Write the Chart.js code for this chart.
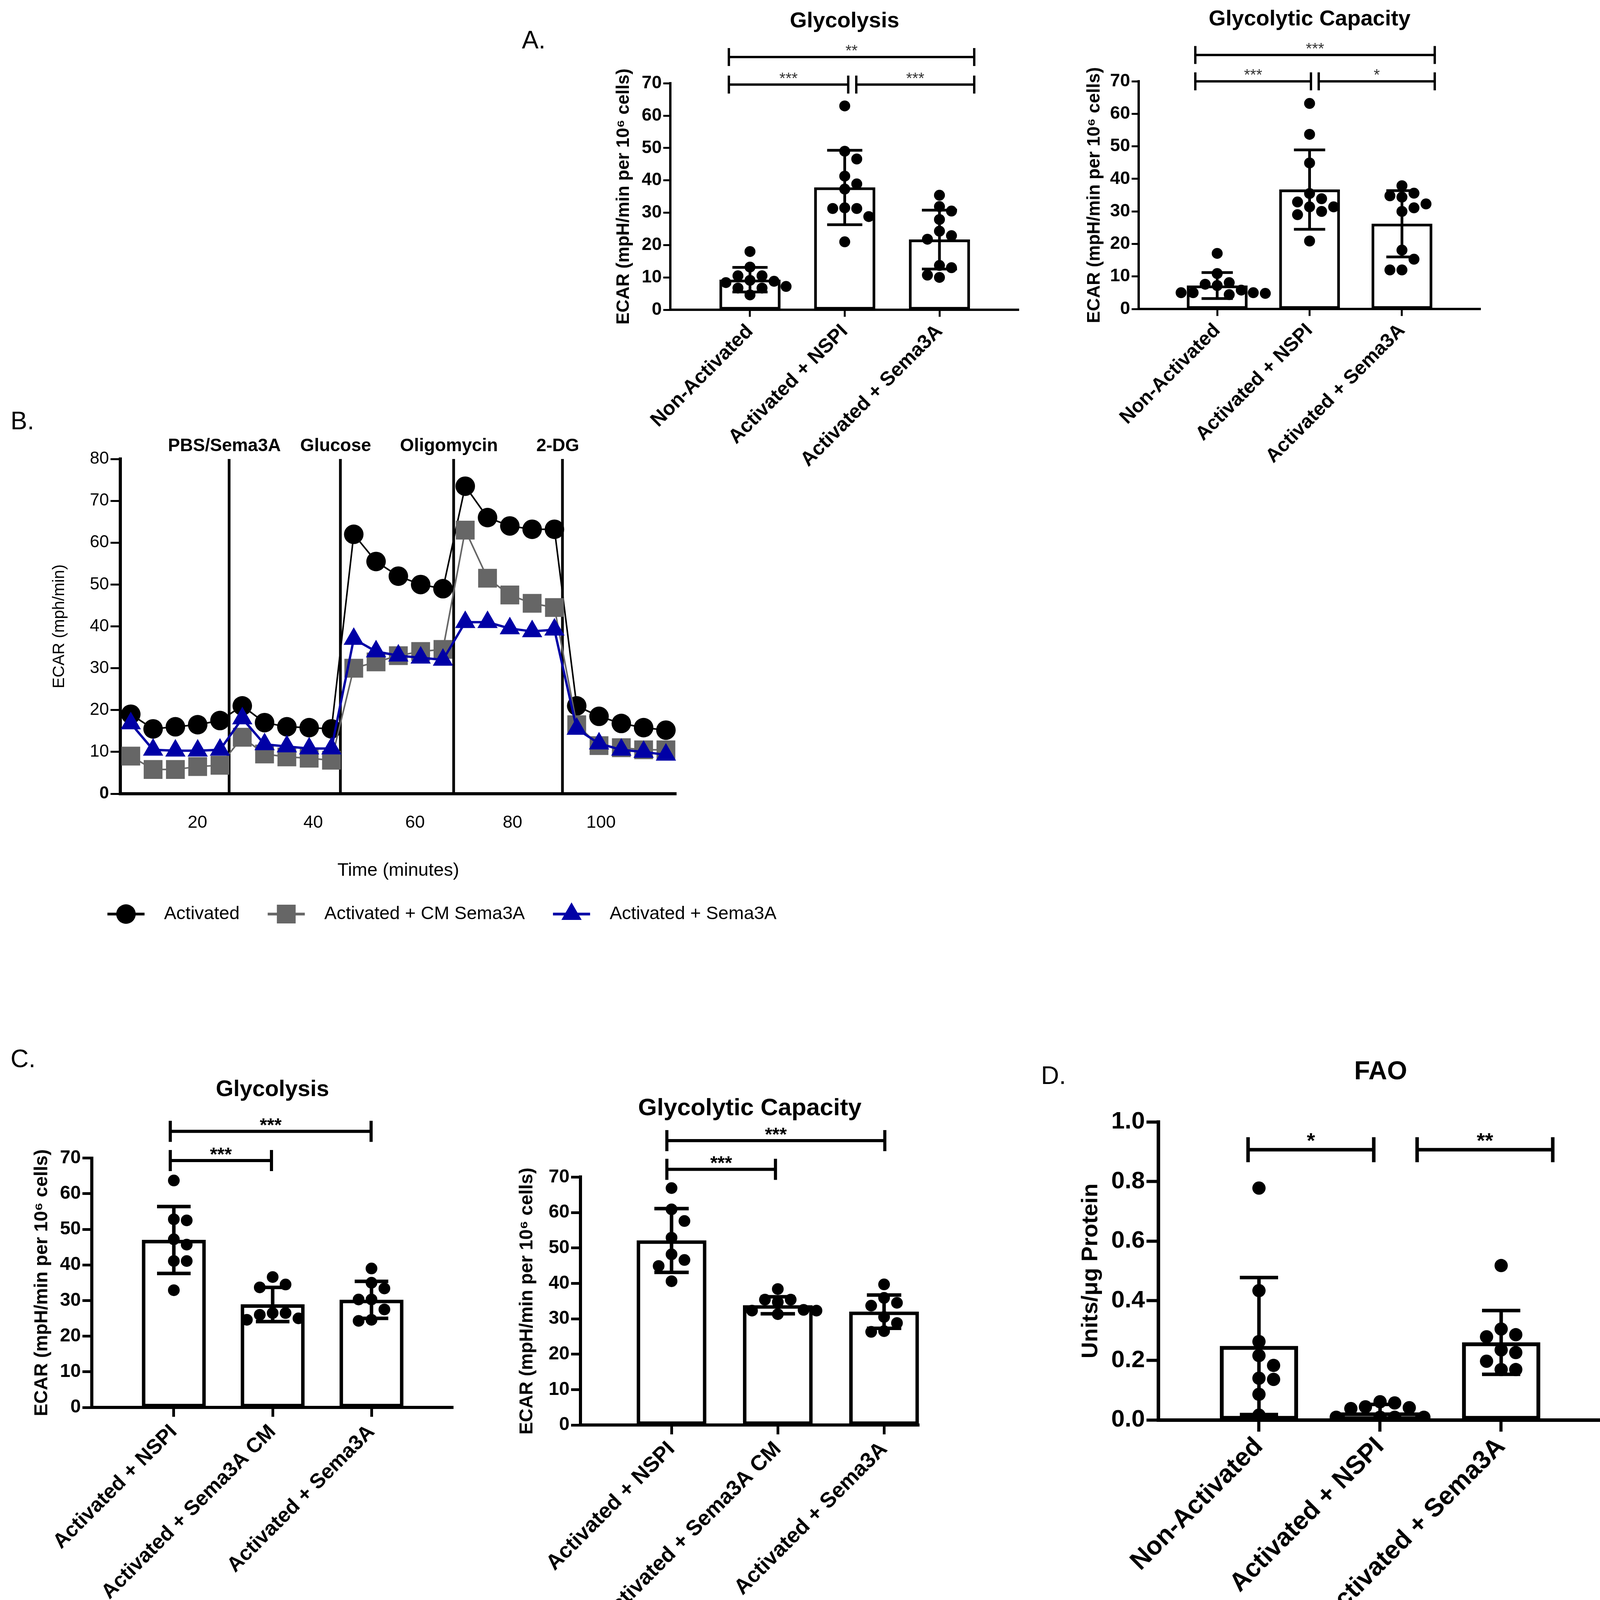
<!DOCTYPE html>
<html>
<head>
<meta charset="utf-8">
<script src="https://cdn.jsdelivr.net/npm/chart.js@4.4.1/dist/chart.umd.min.js"></script>
<style>
body { margin: 0; background: #fff; width: 4126px; height: 4158px; position: relative; overflow: hidden; font-family: 'Liberation Sans', Arial, sans-serif; }
.box { position: absolute; }
.tag { position: absolute; font-size: 64px; line-height: 1; color: #000; }
</style>
</head>
<body>
<div class="tag" style="left:1336px;top:70px">A.</div>
<div class="tag" style="left:27px;top:1045px">B.</div>
<div class="tag" style="left:27px;top:2678px">C.</div>
<div class="tag" style="left:2665px;top:2721px">D.</div>

<div class="box" style="left:1545px;top:0px;width:1095px;height:1200px"><canvas id="a1"></canvas></div>
<div class="box" style="left:2745px;top:0px;width:1075px;height:1200px"><canvas id="a2"></canvas></div>
<div class="box" style="left:100px;top:1100px;width:2000px;height:1320px"><canvas id="b"></canvas></div>
<div class="box" style="left:60px;top:2740px;width:1140px;height:1418px"><canvas id="c1"></canvas></div>
<div class="box" style="left:1300px;top:2790px;width:1100px;height:1368px"><canvas id="c2"></canvas></div>
<div class="box" style="left:2740px;top:2680px;width:1386px;height:1478px"><canvas id="d"></canvas></div>

<script>
Chart.defaults.font.family = "'Liberation Sans', Arial, sans-serif";
Chart.defaults.color = '#000';
Chart.defaults.animation = false;
Chart.defaults.events = [];
Chart.defaults.plugins.legend.display = false;
Chart.defaults.plugins.tooltip.enabled = false;

// ---- panel A : naive vs activated ----
var groupsA = ['Non-Activated', 'Activated + NSPI', 'Activated + Sema3A'];
var glyA = [
  [18, 13.2, 10.5, 10.5, 9.1, 8.8, 8.4, 7.2, 6.7, 6.7, 4.6],
  [63, 49, 46.6, 41.3, 38.9, 37.3, 31.5, 31.3, 31.3, 28.8, 21],
  [35.4, 31.9, 30.5, 27.9, 24.3, 22.9, 21.8, 13.7, 13, 10.7, 10]
];
var glyAMean = [9.3, 37.8, 21.7];
var glyASd = [3.8, 11.5, 9.1];
var capA = [
  [17.1, 10.9, 8.1, 7.6, 7.2, 5.8, 5.0, 5.0, 5.0, 4.8, 4.4],
  [63.2, 53.7, 44.9, 35.5, 33.9, 32.9, 31.4, 31.4, 30, 29, 20.9],
  [37.9, 35.6, 34.8, 34.4, 32.3, 31.1, 30, 18.1, 15.3, 12, 12]
];
var capAMean = [7.2, 36.7, 26.2];
var capASd = [4.0, 12.2, 10.2];

// ---- panel B : ECAR trace ----
var measurement = [1, 2, 3, 4, 5, 6, 7, 8, 9, 10, 11, 12, 13, 14, 15, 16, 17, 18, 19, 20, 21, 22, 23, 24, 25];
var activated = [19, 15.5, 16, 16.5, 17.5, 21, 17, 16, 15.8, 15.5, 62, 55.5, 52, 50, 49, 73.5, 66, 64, 63.2, 63.2, 21, 18.5, 16.8, 15.8, 15.2];
var activatedCm = [9, 5.8, 5.8, 6.5, 6.8, 13.5, 9.5, 8.8, 8.5, 8, 30, 31.5, 33, 34, 34.5, 63, 51.5, 47.5, 45.5, 44.5, 16.5, 11.5, 11, 10.5, 10.5];
var activatedSema = [16.8, 10.5, 10.3, 10.3, 10.5, 18, 11.8, 11.3, 10.8, 10.8, 37, 34, 33, 32.5, 32, 41, 41, 39.5, 38.8, 39.2, 15.5, 12, 10.5, 10, 9.3];
var timeTickAt = [3.99, 9.18, 13.75, 18.12, 22.09];
var timeTickLabels = ['20', '40', '60', '80', '100'];
var injectAt = [5.41, 10.4, 15.48, 20.36];
var injectLabels = ['PBS/Sema3A', 'Glucose', 'Oligomycin', '2-DG'];

// ---- panel C : conditioned medium ----
var groupsC = ['Activated + NSPI', 'Activated + Sema3A CM', 'Activated + Sema3A'];
var glyC = [
  [63.7, 52.8, 52.5, 47.2, 45.7, 41.1, 41.1, 32.9],
  [36.6, 34.5, 33.7, 26.5, 26.5, 26, 25, 24.6],
  [39, 35, 33.4, 30.3, 30.3, 27.5, 24.6, 24.3]
];
var glyCMean = [47.0, 28.9, 30.2];
var glyCSd = [9.4, 4.8, 5.2];
var capC = [
  [66.9, 60.9, 57.6, 52.9, 48.2, 46.6, 44.9, 40.6],
  [38.4, 35.4, 35.4, 34.7, 32.5, 32.3, 32.3, 31.3],
  [39.7, 35.9, 34.5, 33.7, 30.5, 28.8, 26.5, 26.3]
];
var capCMean = [52.1, 33.8, 32.0];
var capCSd = [9.0, 2.4, 4.7];

// ---- panel D : FAO ----
var fao = [
  [0.778, 0.434, 0.263, 0.216, 0.183, 0.14, 0.136, 0.086, 0.016],
  [0.061, 0.057, 0.044, 0.041, 0.038, 0.009, 0.009, 0.009, 0.009],
  [0.518, 0.305, 0.286, 0.279, 0.235, 0.226, 0.197, 0.169, 0.169]
];
var faoMean = [0.248, 0.025, 0.26];
var faoSd = [0.23, 0.027, 0.107];

var ECAR_LABEL = 'ECAR (mpH/min per 10\u2076 cells)';

function errorBars(mean, sd, lw, cap) {
  return {
    id: 'errorBars',
    afterDatasetsDraw: function(chart) {
      var ctx = chart.ctx, xs = chart.scales.x, ys = chart.scales.y;
      ctx.save();
      ctx.strokeStyle = '#000';
      ctx.lineWidth = lw;
      mean.forEach(function(m, i) {
        var x = xs.getPixelForValue(i);
        var top = ys.getPixelForValue(m + sd[i]);
        var bot = ys.getPixelForValue(Math.max(0, m - sd[i]));
        ctx.beginPath();
        ctx.moveTo(x, top); ctx.lineTo(x, bot);
        ctx.moveTo(x - cap, top); ctx.lineTo(x + cap, top);
        ctx.moveTo(x - cap, bot); ctx.lineTo(x + cap, bot);
        ctx.stroke();
      });
      ctx.restore();
    }
  };
}

function brackets(items, st) {
  return {
    id: 'brackets',
    afterDraw: function(chart) {
      var ctx = chart.ctx, xs = chart.scales.x, ys = chart.scales.y;
      ctx.save();
      ctx.strokeStyle = '#000';
      ctx.lineWidth = st.width;
      ctx.font = st.font;
      ctx.fillStyle = st.color;
      ctx.textAlign = 'center';
      ctx.textBaseline = 'alphabetic';
      items.forEach(function(b) {
        var x1 = xs.getPixelForValue(b[0]), x2 = xs.getPixelForValue(b[1]), y = ys.getPixelForValue(b[2]);
        ctx.beginPath();
        ctx.moveTo(x1, y - st.cap); ctx.lineTo(x1, y + st.cap);
        ctx.moveTo(x1, y); ctx.lineTo(x2, y);
        ctx.moveTo(x2, y - st.cap); ctx.lineTo(x2, y + st.cap);
        ctx.stroke();
        ctx.fillText(b[3], (x1 + x2) / 2, y - st.gap);
      });
      ctx.restore();
    }
  };
}

// lay the replicate dots out side by side where they would overlap
function spreadDots(chart, groups, r) {
  var xs = chart.scales.x, ys = chart.scales.y;
  var step = r * 2.2;
  var out = [];
  groups.forEach(function(vals, g) {
    var cx = xs.getPixelForValue(g);
    var placed = [];
    vals.forEach(function(v) {
      var py = ys.getPixelForValue(v), px = cx;
      for (var n = 0; n < 30; n++) {
        var off = n === 0 ? 0 : (n % 2 ? 1 : -1) * Math.ceil(n / 2);
        px = cx + off * step;
        var hit = placed.some(function(p) { return Math.hypot(p[0] - px, p[1] - py) < 2 * r; });
        if (!hit) break;
      }
      placed.push([px, py]);
      out.push({ x: xs.getValueForPixel(px), y: v });
    });
  });
  chart.data.datasets[1].data = out;
  chart.update('none');
}

function barPanel(id, c) {
  var chart = new Chart(document.getElementById(id), {
    type: 'bar',
    data: {
      datasets: [{
        data: c.mean.map(function(m, i) { return { x: i, y: m }; }),
        backgroundColor: '#fff', borderColor: '#000', borderWidth: c.lw,
        borderSkipped: false, barThickness: c.barW, order: 2
      }, {
        type: 'scatter', data: [], pointRadius: c.r,
        pointBackgroundColor: '#000', pointBorderWidth: 0, order: 1
      }]
    },
    options: {
      responsive: true, maintainAspectRatio: false, devicePixelRatio: 1,
      layout: { padding: { right: c.padR } },
      plugins: {
        title: {
          display: true, text: c.title, fullSize: false, color: '#000',
          font: { size: c.titleSize, weight: 'bold' },
          padding: { top: c.titleTop, bottom: c.titleBottom }
        }
      },
      scales: {
        x: {
          type: 'linear', min: c.xmin, max: c.xmax, offset: false,
          afterBuildTicks: function(s) { s.ticks = c.groups.map(function(g, i) { return { value: i }; }); },
          afterFit: function(s) { s.height = c.xh; },
          ticks: {
            autoSkip: false, minRotation: 45, maxRotation: 45, padding: c.xpad,
            font: { size: c.xfs, weight: 'bold' },
            callback: function(v, i) { return c.groups[i]; }
          },
          grid: { offset: false, drawOnChartArea: false, tickLength: c.tl, tickWidth: c.tw, tickColor: '#000' },
          border: { color: '#000', width: c.aw }
        },
        y: {
          min: 0, max: c.ymax,
          afterFit: function(s) { s.width = c.yw; },
          ticks: { stepSize: c.step, padding: 4, font: { size: c.yfs, weight: 'bold' }, callback: c.fmt },
          grid: { drawOnChartArea: false, tickLength: c.tl, tickWidth: c.tw, tickColor: '#000' },
          border: { color: '#000', width: c.aw },
          title: { display: true, text: c.ytitle, font: { size: c.ytfs, weight: 'bold' }, padding: { top: c.ytpad, bottom: 0 } }
        }
      }
    },
    plugins: [errorBars(c.mean, c.sd, c.errW, c.cap), brackets(c.brackets, c.bst)]
  });
  spreadDots(chart, c.pts, c.r);
  return chart;
}

var fmt0 = function(v) { return v; };
var smallStars = { width: 6, cap: 23, font: '40px "Liberation Sans", Arial, sans-serif', color: '#333', gap: 3 };

barPanel('a1', {
  groups: groupsA, pts: glyA, mean: glyAMean, sd: glyASd,
  title: 'Glycolysis', titleSize: 56, titleTop: 21, titleBottom: 125,
  xmin: -0.841, xmax: 2.837, padR: 32, xh: 407, yw: 171, xpad: 8,
  ymax: 70, step: 10, fmt: fmt0, yfs: 46, xfs: 51, ytitle: ECAR_LABEL, ytfs: 46, ytpad: 25,
  lw: 7, barW: 156, r: 14, tl: 18, tw: 5, aw: 6, errW: 7, cap: 45,
  brackets: [[-0.223, 2.367, 78.1, '**'], [-0.223, 1.037, 69.6, '***'], [1.122, 2.367, 69.6, '***']],
  bst: smallStars
});

barPanel('a2', {
  groups: groupsA, pts: capA, mean: capAMean, sd: capASd,
  title: 'Glycolytic Capacity', titleSize: 56, titleTop: 16, titleBottom: 125,
  xmin: -0.85, xmax: 2.85, padR: 30, xh: 409, yw: 170, xpad: 8,
  ymax: 70, step: 10, fmt: fmt0, yfs: 46, xfs: 50, ytitle: ECAR_LABEL, ytfs: 46, ytpad: 30,
  lw: 7, barW: 155, r: 14, tl: 18, tw: 5, aw: 6, errW: 7, cap: 40,
  brackets: [[-0.237, 2.355, 78.1, '***'], [-0.237, 1.015, 70, '***'], [1.099, 2.355, 70, '*']],
  bst: smallStars
});

barPanel('c1', {
  groups: groupsC, pts: glyC, mean: glyCMean, sd: glyCSd,
  title: 'Glycolysis', titleSize: 58, titleTop: 15, titleBottom: 140,
  xmin: -0.83, xmax: 2.826, padR: 40, xh: 555, yw: 175, xpad: 8,
  ymax: 70, step: 10, fmt: fmt0, yfs: 48, xfs: 53, ytitle: ECAR_LABEL, ytfs: 48, ytpad: 19,
  lw: 9, barW: 163, r: 15, tl: 24, tw: 7, aw: 8, errW: 9, cap: 43,
  brackets: [[-0.036, 1.996, 77.5, '***'], [-0.036, 0.988, 69.3, '***']],
  bst: { width: 8, cap: 27, font: 'bold 48px "Liberation Sans", Arial, sans-serif', color: '#000', gap: 0 }
});

barPanel('c2', {
  groups: groupsC, pts: capC, mean: capCMean, sd: capCSd,
  title: 'Glycolytic Capacity', titleSize: 62, titleTop: 11, titleBottom: 138,
  xmin: -0.857, xmax: 2.33, padR: 47, xh: 510, yw: 186, xpad: 6,
  ymax: 70, step: 10, fmt: fmt0, yfs: 48, xfs: 55, ytitle: ECAR_LABEL, ytfs: 48, ytpad: 21,
  lw: 9, barW: 178, r: 15, tl: 24, tw: 7, aw: 8, errW: 9, cap: 44,
  brackets: [[-0.044, 2.007, 80.3, '***'], [-0.044, 0.978, 72.2, '***']],
  bst: { width: 8, cap: 27, font: 'bold 48px "Liberation Sans", Arial, sans-serif', color: '#000', gap: 0 }
});

barPanel('d', {
  groups: groupsA, pts: fao, mean: faoMean, sd: faoSd,
  title: 'FAO', titleSize: 66, titleTop: 25, titleBottom: 88,
  xmin: -0.832, xmax: 2.842, padR: 22, xh: 523, yw: 225, xpad: 0,
  ymax: 1.0, step: 0.2, fmt: function(v) { return v.toFixed(1); }, yfs: 62, xfs: 66,
  ytitle: 'Units/\u03bcg Protein', ytfs: 58, ytpad: 18,
  lw: 10, barW: 200, r: 17, tl: 30, tw: 8, aw: 9, errW: 9, cap: 49,
  brackets: [[-0.09, 0.948, 0.907, '*'], [1.306, 2.426, 0.907, '**']],
  bst: { width: 9, cap: 32, font: 'bold 54px "Liberation Sans", Arial, sans-serif', color: '#000', gap: 5 }
});

// ---- panel B ----
var injections = {
  id: 'injections',
  beforeDatasetsDraw: function(chart) {
    var ctx = chart.ctx, a = chart.chartArea, xs = chart.scales.x;
    ctx.save();
    ctx.strokeStyle = '#000';
    ctx.lineWidth = 7;
    injectAt.forEach(function(v) {
      var px = xs.getPixelForValue(v);
      ctx.beginPath(); ctx.moveTo(px, a.top); ctx.lineTo(px, a.bottom); ctx.stroke();
    });
    ctx.font = 'bold 46px "Liberation Sans", Arial, sans-serif';
    ctx.fillStyle = '#000';
    ctx.textAlign = 'center';
    injectAt.forEach(function(v, i) {
      ctx.fillText(injectLabels[i], xs.getPixelForValue(v) - 12, a.top - 20);
    });
    ctx.restore();
  }
};

var legendB = {
  id: 'legendB',
  afterDraw: function(chart) {
    var ctx = chart.ctx, a = chart.chartArea;
    var x = a.left - 33, y = a.bottom + 308;
    ctx.save();
    ctx.font = '47px "Liberation Sans", Arial, sans-serif';
    ctx.textBaseline = 'middle';
    chart.data.datasets.forEach(function(ds) {
      ctx.strokeStyle = ds.borderColor;
      ctx.lineWidth = 7;
      ctx.beginPath(); ctx.moveTo(x, y); ctx.lineTo(x + 95, y); ctx.stroke();
      ctx.fillStyle = ds.backgroundColor;
      Chart.helpers.drawPoint(ctx, { pointStyle: ds.pointStyle, radius: ds.pointRadius, rotation: 0, borderWidth: 0 }, x + 47.5, y);
      ctx.fillStyle = '#000';
      ctx.fillText(ds.label, x + 145, y);
      x += 145 + ctx.measureText(ds.label).width + 72;
    });
    ctx.restore();
  }
};

function series(vals) {
  return measurement.map(function(m, i) { return { x: m, y: vals[i] }; });
}

new Chart(document.getElementById('b'), {
  type: 'line',
  data: {
    datasets: [
      { label: 'Activated', data: series(activated), borderColor: '#000', backgroundColor: '#000',
        borderWidth: 4, pointStyle: 'circle', pointRadius: 25, pointBorderWidth: 0, order: 3 },
      { label: 'Activated + CM Sema3A', data: series(activatedCm), borderColor: '#666', backgroundColor: '#666',
        borderWidth: 4, pointStyle: 'rect', pointRadius: 34, pointBorderWidth: 0, order: 2 },
      { label: 'Activated + Sema3A', data: series(activatedSema), borderColor: '#0000a6', backgroundColor: '#0000a6',
        borderWidth: 6, pointStyle: 'triangle', pointRadius: 30, pointBorderWidth: 0, order: 1 }
    ]
  },
  options: {
    responsive: true, maintainAspectRatio: false, devicePixelRatio: 1,
    layout: { padding: { top: 75, right: 369 } },
    scales: {
      x: {
        type: 'linear', min: 0.53, max: 25.46,
        afterBuildTicks: function(s) { s.ticks = timeTickAt.map(function(v) { return { value: v }; }); },
        afterFit: function(s) { s.height = 388; },
        ticks: { autoSkip: false, maxRotation: 0, padding: 48, font: { size: 45 },
          callback: function(v, i) { return timeTickLabels[i]; } },
        grid: { drawOnChartArea: false, drawTicks: false },
        border: { color: '#000', width: 8 },
        title: { display: true, text: 'Time (minutes)', font: { size: 47 }, padding: { top: 0, bottom: 163 } }
      },
      y: {
        min: 0, max: 80,
        afterFit: function(s) { s.width = 208; },
        ticks: { stepSize: 10, padding: 4,
          font: function(ctx) { return { size: 44, weight: ctx.tick && ctx.tick.value === 0 ? 'bold' : 'normal' }; } },
        grid: { drawOnChartArea: false, tickLength: 25, tickWidth: 5, tickColor: '#000' },
        border: { color: '#000', width: 8 },
        title: { display: true, text: 'ECAR (mph/min)', font: { size: 42 }, padding: { top: 27, bottom: 0 } }
      }
    }
  },
  plugins: [injections, legendB]
});
</script>
</body>
</html>
